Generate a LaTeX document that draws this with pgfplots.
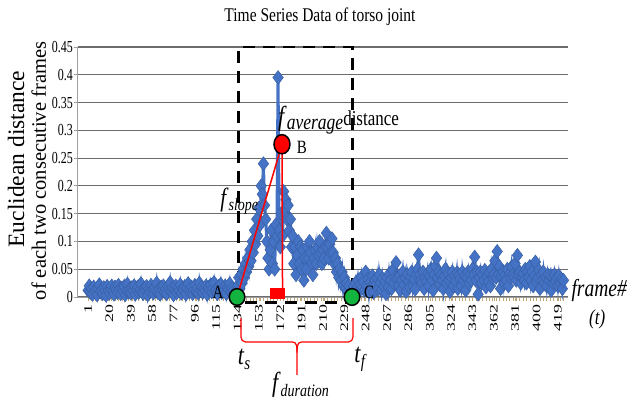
\documentclass[border=0pt]{standalone}
\usepackage{pgfplots}
\pgfplotsset{compat=1.18}
\usepackage{pgfplotstable}
\usepackage{graphicx}
\usepackage{fontspec}
\setmainfont{Liberation Serif}
\definecolor{serblue}{HTML}{4472C4}
\definecolor{ggreen}{HTML}{12B33F}
\definecolor{tickTan}{HTML}{C2A878}
\newcommand{\yl}[1]{\scalebox{1}[1.4]{#1}}
\newcommand{\xl}[1]{\scalebox{1.55}[1]{#1}}
\newcommand{\vs}[1]{\scalebox{1}[1.25]{#1}}

\pgfplotstableread[header=false,row sep=\\]{
0.012\\0.02\\0.008\\0.015\\0.005\\0.018\\0.01\\0.014\\0.004\\0.016\\
0.022\\0.009\\0.013\\0.006\\0.017\\0.011\\0.003\\0.019\\0.012\\0.007\\
0.015\\0.02\\0.01\\0.005\\0.018\\0.013\\0.008\\0.021\\0.014\\0.006\\
0.016\\0.01\\0.019\\0.004\\0.012\\0.023\\0.009\\0.015\\0.007\\0.017\\
0.011\\0.02\\0.005\\0.014\\0.018\\0.008\\0.013\\0.024\\0.01\\0.006\\
0.016\\0.012\\0.019\\0.004\\0.015\\0.009\\0.021\\0.013\\0.007\\0.017\\
0.011\\0.025\\0.008\\0.014\\0.005\\0.018\\0.012\\0.02\\0.009\\0.015\\
0.006\\0.019\\0.013\\0.026\\0.01\\0.016\\0.004\\0.014\\0.02\\0.008\\
0.017\\0.011\\0.022\\0.007\\0.015\\0.012\\0.019\\0.005\\0.016\\0.024\\
0.009\\0.014\\0.018\\0.006\\0.013\\0.021\\0.01\\0.016\\0.007\\0.025\\
0.012\\0.018\\0.008\\0.015\\0.011\\0.02\\0.005\\0.017\\0.013\\0.022\\
0.009\\0.016\\0.026\\0.01\\0.014\\0.006\\0.019\\0.012\\0.023\\0.008\\
0.015\\0.011\\0.02\\0.006\\0.017\\0.013\\0.024\\0.009\\0.015\\0.01\\
0.004\\0.002\\0.012\\
0.02\\0.035\\0.015\\0.04\\0.025\\0.05\\0.035\\0.06\\0.045\\0.07\\
0.055\\0.085\\0.065\\0.1\\0.08\\0.12\\0.095\\0.14\\0.11\\0.16\\
0.13\\0.2\\0.185\\0.24\\0.165\\0.14\\0.1\\0.07\\0.05\\0.085\\
0.12\\0.06\\0.1\\0.05\\0.13\\0.11\\0.395\\0.12\\0.09\\0.15\\
0.11\\0.19\\0.15\\0.175\\0.14\\0.165\\0.12\\0.14\\0.09\\0.11\\
0.06\\0.09\\0.04\\0.075\\0.1\\0.06\\0.09\\0.05\\0.085\\0.03\\
0.07\\0.05\\0.09\\0.07\\0.1\\0.08\\0.06\\0.04\\0.07\\0.085\\
0.06\\0.09\\0.075\\0.1\\0.08\\0.06\\0.085\\0.07\\0.09\\0.115\\
0.09\\0.07\\0.095\\0.08\\0.105\\0.08\\0.06\\0.07\\0.045\\0.06\\
0.035\\0.05\\0.03\\0.045\\0.02\\0.035\\0.015\\0.025\\0.01\\0.02\\
0.005\\0.003\\
0.012\\0.02\\0.008\\0.025\\0.015\\0.03\\0.01\\0.022\\0.035\\0.018\\
0.028\\0.012\\0.045\\0.02\\0.032\\0.01\\0.027\\0.018\\0.038\\0.008\\
0.03\\0.022\\0.035\\0.014\\0.04\\0.025\\0.012\\0.033\\0.02\\0.028\\
0.006\\0.035\\0.018\\0.042\\0.03\\0.015\\0.048\\0.025\\0.035\\0.062\\
0.035\\0.02\\0.038\\0.012\\0.03\\0.045\\0.022\\0.035\\0.01\\0.04\\
0.028\\0.018\\0.036\\0.045\\0.02\\0.032\\0.014\\0.04\\0.05\\0.076\\
0.04\\0.03\\0.025\\0.045\\0.015\\0.035\\0.028\\0.042\\0.02\\0.038\\
0.05\\0.03\\0.012\\0.04\\0.055\\0.07\\0.035\\0.045\\0.022\\0.04\\
0.03\\0.015\\0.038\\0.05\\0.025\\0.042\\0.03\\0.01\\0.035\\0.045\\
0.02\\0.038\\0.028\\0.043\\0.015\\0.04\\0.032\\0.02\\0.045\\0.03\\
0.038\\0.012\\0.035\\0.045\\0.025\\0.04\\0.03\\0.05\\0.04\\0.072\\
0.03\\0.045\\0.005\\0.035\\0.045\\0.025\\0.04\\0.03\\0.048\\0.018\\
0.036\\0.028\\0.045\\0.02\\0.05\\0.035\\0.04\\0.065\\0.035\\0.082\\
0.04\\0.055\\0.015\\0.038\\0.045\\0.025\\0.04\\0.03\\0.05\\0.02\\
0.042\\0.035\\0.055\\0.04\\0.035\\0.06\\0.03\\0.075\\0.04\\0.045\\
0.025\\0.035\\0.042\\0.03\\0.05\\0.025\\0.045\\0.035\\0.055\\0.03\\
0.045\\0.02\\0.038\\0.063\\0.028\\0.035\\0.048\\0.015\\0.04\\0.03\\
0.045\\0.025\\0.035\\0.02\\0.04\\0.03\\0.038\\0.012\\0.035\\0.025\\
0.04\\0.028\\0.035\\0.02\\0.038\\0.025\\0.032\\0.015\\0.03\\
}\tors

\begin{document}
\begin{tikzpicture}
\begin{axis}[
  scale only axis, width=490pt, height=250pt,
  xmin=-8, xmax=428, ymin=0, ymax=0.45,
  clip=false,
  axis x line=bottom, axis y line=left,
  axis line style={-, draw=gray!75, line width=1pt},
  ytick={0,0.05,0.1,0.15,0.2,0.25,0.3,0.35,0.4,0.45},
  yticklabels={\yl{0},\yl{0.05},\yl{0.1},\yl{0.15},\yl{0.2},\yl{0.25},\yl{0.3},\yl{0.35},\yl{0.4},\yl{0.45}},
  yticklabel style={font=\fontsize{12}{13}\selectfont, text=black, inner xsep=1pt},
  ymajorgrids, grid style={draw=gray!85!black, line width=1.1pt},
  xtick={1,20,39,58,77,96,115,134,153,172,191,210,229,248,267,286,305,324,343,362,381,400,419},
  xticklabels={\xl{1},\xl{20},\xl{39},\xl{58},\xl{77},\xl{96},\xl{115},\xl{134},\xl{153},\xl{172},\xl{191},\xl{210},\xl{229},\xl{248},\xl{267},\xl{286},\xl{305},\xl{324},\xl{343},\xl{362},\xl{381},\xl{400},\xl{419}},
  xticklabel style={font=\fontsize{11.5}{12}\selectfont, rotate=90, anchor=east, text=black},
  minor xtick={1,4,...,424},
  tick align=outside,
  major tick length=4pt, minor tick length=3.5pt,
  every tick/.style={draw=tickTan, line width=0.5pt},
  y tick style={draw=gray!75, line width=0.8pt},
]
% dashed window
\addplot[black, line width=2.6pt, dash pattern=on 12pt off 8pt]
  coordinates {(135,-0.01) (135,0.45) (236,0.45) (236,-0.01) (135,-0.01)};
% series
\addplot[serblue, line width=3pt, mark=diamond*, mark size=7pt,
  mark options={fill=serblue, draw=serblue!85!black, line width=0.5pt}]
  table[x expr=\coordindex+1, y index=0] {\tors};
% title
\node[font=\fontsize{15.5}{15}\selectfont] at (rel axis cs:0.5,1) [xshift=-3pt, yshift=30pt]
  {\vs{Time Series Data of torso joint}};
% y label
\node[rotate=90, font=\fontsize{23.5}{23}\selectfont, text=black]
  at (rel axis cs:-0.1265,0.552) {Euclidean distance};
\node[rotate=90, font=\fontsize{20.5}{20}\selectfont, text=black]
  at (rel axis cs:-0.0800,0.504) {of each two consecutive frames};
\end{axis}
% overlay axis for the annotations, drawn on top
\begin{axis}[
  scale only axis, width=490pt, height=250pt,
  xmin=-8, xmax=428, ymin=0, ymax=0.45,
  clip=false, hide axis,
]
% red lines
\addplot[red, line width=1.5pt] coordinates {(133.5,0) (173.5,0.275) (174,0.014)};
% red square
\addplot[draw=red, fill=red, line width=0.5pt] coordinates
  {(163,-0.002) (175.3,-0.002) (175.3,0.016) (163,0.016) (163,-0.002)};
% points A, C
\addplot[only marks, mark=*, mark size=7.8pt,
  mark options={fill=ggreen, draw=black, line width=1.5pt, yscale=1.07}]
  coordinates {(133.5,0) (235.8,0)};
% point B
\addplot[only marks, mark=*, mark size=8pt,
  mark options={fill=red, draw=black, line width=1.5pt, yscale=1.2}]
  coordinates {(173.5,0.275)};
% brace
\draw[red, line width=1.2pt]
  (axis cs:137,-0.038) -- (axis cs:137,-0.072) to[out=-90,in=180] (axis cs:141,-0.081)
  -- (axis cs:183,-0.081) to[out=0,in=90] (axis cs:186.9,-0.1) -- (axis cs:186.9,-0.14);
\draw[red, line width=1.2pt]
  (axis cs:186.9,-0.1) to[out=90,in=180] (axis cs:190.8,-0.081)
  -- (axis cs:232.7,-0.081) to[out=0,in=-90] (axis cs:236.7,-0.072) -- (axis cs:236.7,-0.038);
% labels
\node[font=\fontsize{15}{15}\selectfont] at (axis cs:116.6,0.008) {\vs{A}};
\node[font=\fontsize{15}{15}\selectfont] at (axis cs:191.3,0.27) {\vs{B}};
\node[font=\fontsize{15}{15}\selectfont] at (axis cs:251,0.008) {\vs{C}};
\node[inner sep=0pt] at (axis cs:135.5,0.172)
  {\vs{\fontsize{21}{21}\selectfont\textit{f}\raisebox{-3pt}{\fontsize{14}{14}\selectfont\textit{slope}}}};
\node[inner sep=0pt, anchor=west] at (axis cs:170,0.318)
  {\vs{\fontsize{22}{22}\selectfont\textit{f}\raisebox{-3pt}{\fontsize{17.5}{17}\selectfont\textit{average}}\fontsize{17}{17}\selectfont distance}};
\node[inner sep=0pt] at (axis cs:139.7,-0.112)
  {\vs{\fontsize{22}{22}\selectfont\textit{t}\raisebox{-4pt}{\fontsize{15}{15}\selectfont\textit{s}}}};
\node[inner sep=0pt] at (axis cs:243.5,-0.112)
  {\vs{\fontsize{22}{22}\selectfont\textit{t}\raisebox{-4pt}{\fontsize{15}{15}\selectfont\textit{f}}}};
\node[inner sep=0pt] at (axis cs:190,-0.158)
  {\vs{\fontsize{22}{22}\selectfont\textit{f}\raisebox{-4pt}{\fontsize{14}{14}\selectfont\textit{duration}}}};
\node[inner sep=0pt, anchor=west] at (axis cs:431,0.012)
  {\vs{\fontsize{19.5}{19}\selectfont\textit{frame\#}}};
\node[inner sep=0pt] at (axis cs:454,-0.041)
  {\vs{\fontsize{17}{17}\selectfont\textit{(t)}}};
\end{axis}
\pgfresetboundingbox
\path (-78pt,-102pt) rectangle (549pt,297pt);
\end{tikzpicture}
\end{document}
